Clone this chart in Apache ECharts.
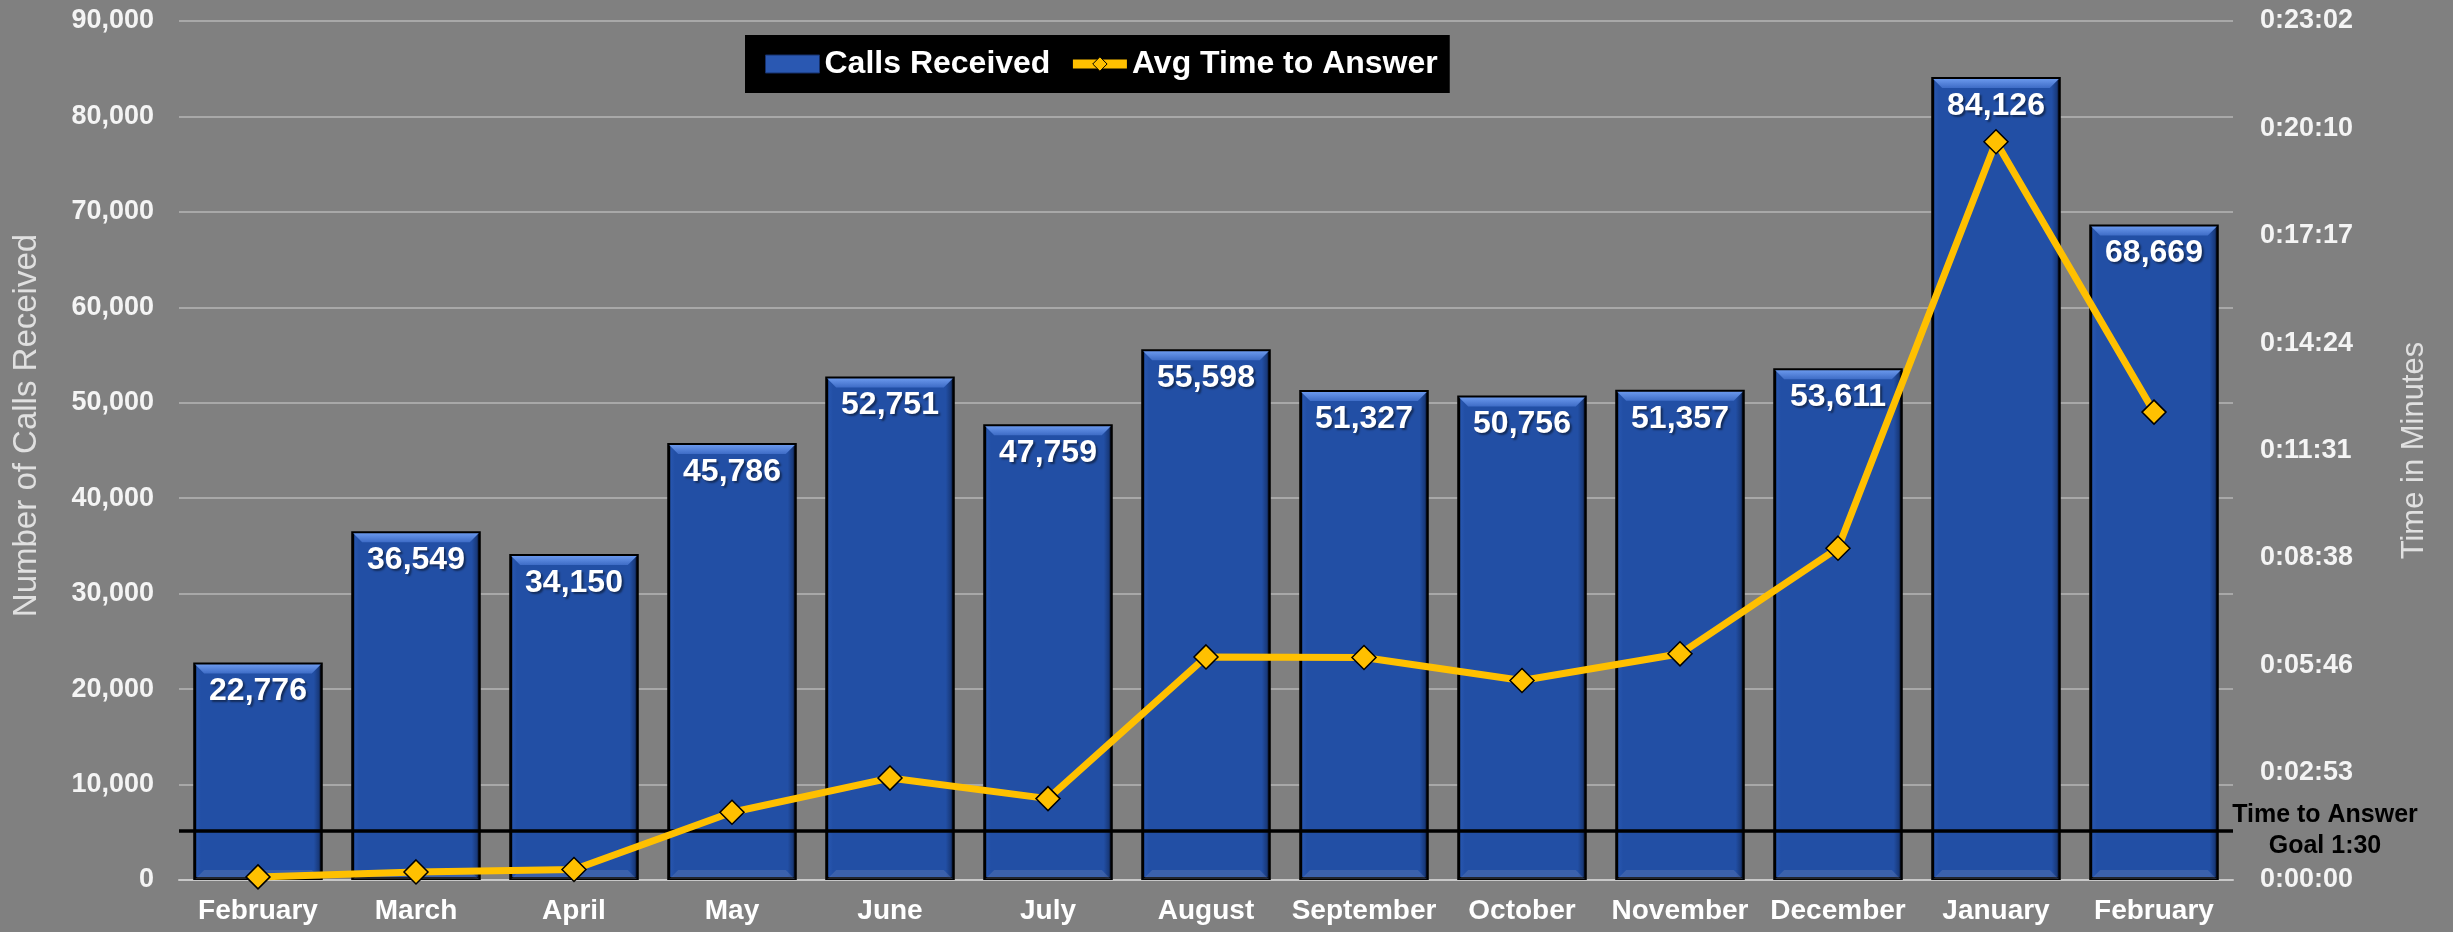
<!DOCTYPE html>
<html>
<head>
<meta charset="utf-8">
<script src="https://cdn.jsdelivr.net/npm/echarts@6/dist/echarts.min.js"></script>
<style>
  html, body { margin: 0; padding: 0; background: #808080; }
  #chart { width: 2453px; height: 932px; }
</style>
</head>
<body>
<div id="chart"></div>
<script>
  // data
  var months = ['February', 'March', 'April', 'May', 'June', 'July', 'August',
    'September', 'October', 'November', 'December', 'January', 'February'];
  var callsReceived = [22776, 36549, 34150, 45786, 52751, 47759, 55598,
    51327, 50756, 51357, 53611, 84126, 68669];
  // average time to answer, in seconds
  var avgAnswerSec = [5, 13, 17, 109, 164, 131, 359, 358, 321, 364, 534, 1188, 753];
  var goalCalls = 5200; // where the goal line sits on the left axis
  var goalText = 'Time to Answer\nGoal 1:30';

  var font = 'Liberation Sans, Arial, sans-serif';
  var barShare = 0.82;

  function pad(n) { return n < 10 ? '0' + n : '' + n; }
  function hms(v) {
    var s = Math.round(v);
    return Math.floor(s / 3600) + ':' + pad(Math.floor((s % 3600) / 60)) + ':' + pad(s % 60);
  }

  // bevel drawn on top of each bar (top highlight, bottom rim, right shade)
  function renderBevel(params, api) {
    var top = api.coord([api.value(0), api.value(1)]);
    var base = api.coord([api.value(0), 0]);
    var w = api.size([1, 0])[0] * barShare;
    var x0 = top[0] - w / 2 + 2, x1 = top[0] + w / 2 - 2;
    var y0 = top[1] + 2, yb = base[1] - 1;
    var b = 9;
    return {
      type: 'group',
      children: [
        {
          type: 'rect',
          shape: { x: x1 - 7, y: y0, width: 7, height: yb - y0 },
          style: {
            fill: new echarts.graphic.LinearGradient(0, 0, 1, 0, [
              { offset: 0, color: 'rgba(10,25,60,0)' },
              { offset: 1, color: 'rgba(10,25,60,0.55)' }
            ])
          }
        },
        {
          type: 'polygon',
          shape: { points: [[x0, y0], [x1, y0], [x1 - b, y0 + b], [x0 + b, y0 + b]] },
          style: {
            fill: new echarts.graphic.LinearGradient(0, 0, 0, 1, [
              { offset: 0, color: '#6a98ec' },
              { offset: 1, color: '#3e6cc6' }
            ])
          }
        },
        {
          type: 'polygon',
          shape: { points: [[x0, yb], [x1, yb], [x1 - b, yb - b], [x0 + b, yb - b]] },
          style: { fill: 'rgba(150,165,200,0.22)' }
        }
      ]
    };
  }

  var chart = echarts.init(document.getElementById('chart'));

  var option = {
    backgroundColor: '#808080',
    animation: false,
    grid: { left: 179, right: 220, top: 21, bottom: 52 },
    legend: {
      left: 745,
      top: 35,
      backgroundColor: '#000',
      padding: [13, 12, 13, 20],
      itemGap: 18,
      itemWidth: 54,
      itemHeight: 18,
      textStyle: { color: '#fff', fontSize: 32, fontWeight: 'bold', fontFamily: font },
      data: [
        { name: 'Calls Received', icon: 'rect', itemStyle: { color: '#2a58b2', borderColor: '#16306a', borderWidth: 1 } },
        { name: 'Avg Time to Answer', lineStyle: { width: 9 }, itemStyle: { borderWidth: 1 } }
      ]
    },
    xAxis: {
      type: 'category',
      data: months,
      axisLine: { lineStyle: { color: '#c8c8c8', width: 2 } },
      axisTick: { length: 8, lineStyle: { color: '#c8c8c8', width: 2 } },
      axisLabel: {
        interval: 0,
        color: '#fff', fontSize: 28, fontWeight: 'bold', fontFamily: font, margin: 17,
        textShadowColor: 'rgba(0,0,0,0.35)', textShadowOffsetX: 1, textShadowOffsetY: 1
      }
    },
    yAxis: [
      {
        type: 'value',
        min: 0,
        max: 90000,
        interval: 10000,
        name: 'Number of Calls Received',
        nameLocation: 'middle',
        nameGap: 136,
        nameTextStyle: {
          color: '#e0e0e0', fontSize: 33, fontFamily: font, padding: [0, 0, 0, 50],
          textShadowColor: 'rgba(0,0,0,0.3)', textShadowOffsetX: 1, textShadowOffsetY: 1
        },
        axisLine: { show: false },
        axisTick: { show: false },
        splitLine: { lineStyle: { color: '#a8a8a8', width: 2 } },
        axisLabel: {
          color: '#f4f4f4', fontSize: 27, fontWeight: 'bold', fontFamily: font, margin: 25,
          textShadowColor: 'rgba(0,0,0,0.35)', textShadowOffsetX: 1, textShadowOffsetY: 1,
          formatter: function (v) { return v.toLocaleString('en-US'); }
        }
      },
      {
        type: 'value',
        min: 0,
        max: 1382.4,
        interval: 172.8,
        name: 'Time in Minutes',
        nameLocation: 'middle',
        nameGap: 166,
        nameTextStyle: {
          color: '#e0e0e0', fontSize: 31, fontFamily: font,
          textShadowColor: 'rgba(0,0,0,0.3)', textShadowOffsetX: 1, textShadowOffsetY: 1
        },
        axisLine: { show: false },
        axisTick: { show: false },
        splitLine: { show: false },
        axisLabel: {
          color: '#f4f4f4', fontSize: 27, fontWeight: 'bold', fontFamily: font, margin: 27,
          textShadowColor: 'rgba(0,0,0,0.35)', textShadowOffsetX: 1, textShadowOffsetY: 1,
          formatter: hms
        }
      }
    ],
    series: [
      {
        name: 'Calls Received',
        type: 'bar',
        barCategoryGap: '18%',
        data: callsReceived,
        itemStyle: {
          color: new echarts.graphic.LinearGradient(0, 0, 1, 0, [
            { offset: 0, color: '#2b5bb6' },
            { offset: 0.06, color: '#224fa5' },
            { offset: 1, color: '#224fa5' }
          ]),
          borderColor: '#000',
          borderWidth: 3
        },
        label: {
          show: true,
          position: 'insideTop',
          distance: 13,
          color: '#fff',
          fontSize: 32,
          fontWeight: 'bold',
          fontFamily: font,
          textShadowColor: 'rgba(0,0,0,0.45)',
          textShadowBlur: 2,
          textShadowOffsetX: 2,
          textShadowOffsetY: 2,
          formatter: function (p) { return p.value.toLocaleString('en-US'); }
        },
        markLine: {
          silent: true,
          symbol: 'none',
          z: 4,
          lineStyle: { color: '#000', width: 3.5, type: 'solid' },
          label: {
            show: true,
            position: 'end',
            distance: [92, 0],
            align: 'center',
            color: '#000',
            fontSize: 25,
            fontWeight: 'bold',
            fontFamily: font,
            lineHeight: 31,
            formatter: goalText
          },
          data: [{ yAxis: goalCalls }]
        }
      },
      {
        name: 'bevel',
        type: 'custom',
        silent: true,
        z: 3,
        renderItem: renderBevel,
        data: callsReceived.map(function (v, i) { return [i, v]; })
      },
      {
        name: 'Avg Time to Answer',
        type: 'line',
        yAxisIndex: 1,
        data: avgAnswerSec,
        symbol: 'diamond',
        symbolSize: 24,
        z: 5,
        lineStyle: { color: '#ffc000', width: 7 },
        itemStyle: { color: '#ffc000', borderColor: '#000', borderWidth: 1.5 }
      }
    ]
  };

  chart.setOption(option);
  window.addEventListener('resize', function () { chart.resize(); });
</script>
</body>
</html>
